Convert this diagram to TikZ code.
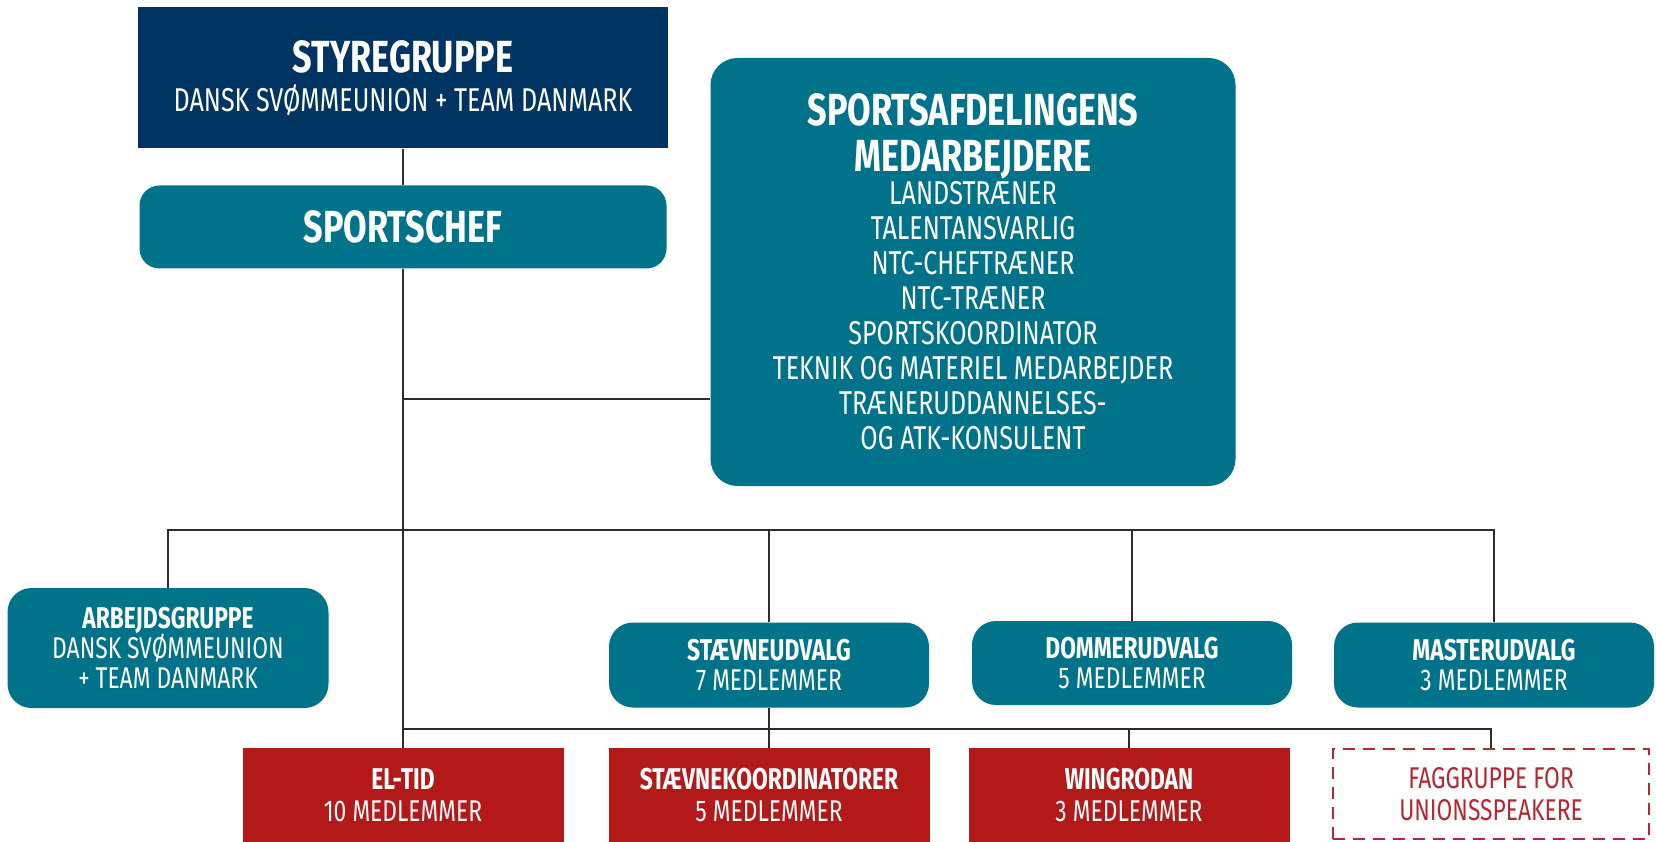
\documentclass[tikz,border=0pt]{standalone}
\usepackage{fontspec}
\setmainfont{Fira Sans}[FakeStretch=0.76]
\usepackage{tikz}
\usetikzlibrary{positioning}
\tikzstyle{chart} = [x = 1pt, y = -1pt]
\definecolor{navyColor}{RGB}{0,52,98}
\definecolor{tealColor}{RGB}{0,115,138}
\definecolor{redColor}{RGB}{180,25,25}
\definecolor{fagColor}{RGB}{178,40,52}
\definecolor{lineColor}{RGB}{45,45,45}
\newcommand{\bigText}{\fontsize{45}{46}\selectfont\bfseries}
\newcommand{\subText}{\fontsize{33}{35}\selectfont}
\newcommand{\smallBold}{\fontsize{30}{30}\selectfont\bfseries}
\newcommand{\smallText}{\fontsize{30}{30}\selectfont}
\tikzstyle{boxStyle} = [inner sep = 0, align = center, text = white, font = \subText]
\tikzstyle{styreStyle} = [boxStyle, fill = navyColor]
\tikzstyle{tealStyle} = [boxStyle, fill = tealColor, rounded corners = 24pt]
\tikzstyle{redStyle} = [boxStyle, fill = redColor, font = \smallText]
\tikzstyle{fagStyle} = [boxStyle, draw = fagColor, line width = 2.8pt, dash pattern = on 12pt off 8pt, text = fagColor, font = \smallText]
\tikzstyle{orgLine} = [draw = lineColor, line width = 1.4pt]
\newcommand{\udvalgBox}[6]{\node [tealStyle, font = \smallText, minimum width = 320pt, minimum height = #4pt] (#1) at (#2, #3) {{\smallBold #5}\\#6};}
\newcommand{\redBox}[5]{\node [redStyle, minimum width = 321pt, minimum height = 94pt] (#1) at (#2, #3) {{\smallBold #4}\\[2pt]#5};}

\begin{document}
\begin{tikzpicture}[chart]
  \useasboundingbox [fill = white] (0, 0) rectangle (1656, 842);
  \node [styreStyle, minimum width = 530pt, minimum height = 141pt] (styre) at (403, 78) {{\bigText STYREGRUPPE}\\[4pt]DANSK SVØMMEUNION + TEAM DANMARK};
  \node [tealStyle, rounded corners = 20pt, minimum width = 527pt, minimum height = 83pt] (chef) at (403, 227) {\bigText SPORTSCHEF};
  \node [tealStyle, rounded corners = 27pt, minimum width = 525pt, minimum height = 428pt] (afd) at (973, 272) {{\bigText SPORTSAFDELINGENS}\\[11pt]{\bigText MEDARBEJDERE}\\[-2pt]LANDSTRÆNER\\TALENTANSVARLIG\\NTC-CHEFTRÆNER\\NTC-TRÆNER\\SPORTSKOORDINATOR\\TEKNIK OG MATERIEL MEDARBEJDER\\TRÆNERUDDANNELSES-\\OG ATK-KONSULENT};
  \node [tealStyle, font = \smallText, minimum width = 321pt, minimum height = 120pt] (arbejd) at (168, 648) {{\smallBold ARBEJDSGRUPPE}\\DANSK SVØMMEUNION\\+ TEAM DANMARK};
  \udvalgBox{staevne}{769}{665}{85}{STÆVNEUDVALG}{7 MEDLEMMER}
  \udvalgBox{dommer}{1132}{663}{84}{DOMMERUDVALG}{5 MEDLEMMER}
  \udvalgBox{master}{1494}{665}{85}{MASTERUDVALG}{3 MEDLEMMER}
  \redBox{eltid}{403}{795}{EL-TID}{10 MEDLEMMER}
  \redBox{staevnek}{769}{795}{STÆVNEKOORDINATORER}{5 MEDLEMMER}
  \redBox{wingrodan}{1129}{795}{WINGRODAN}{3 MEDLEMMER}
  \node [fagStyle, minimum width = 316pt, minimum height = 90pt] (fag) at (1491, 794) {FAGGRUPPE FOR\\[2pt]UNIONSSPEAKERE};
  \coordinate (afdJoin) at (403, 399);
  \coordinate (upperBus) at (403, 530);
  \coordinate (lowerBus) at (403, 729);
  \draw [orgLine] (styre) -- (chef);
  \draw [orgLine] (chef) -- (eltid);
  \draw [orgLine] (afdJoin) -- (afdJoin -| afd.west);
  \draw [orgLine] (arbejd) |- (upperBus) -| (master);
  \draw [orgLine] (staevne) -- (staevne |- upperBus);
  \draw [orgLine] (dommer) -- (dommer |- upperBus);
  \draw [orgLine] (staevne) -- (staevnek);
  \draw [orgLine] (lowerBus) -| (fag);
  \draw [orgLine] (wingrodan) -- (wingrodan |- lowerBus);
\end{tikzpicture}
\end{document}
